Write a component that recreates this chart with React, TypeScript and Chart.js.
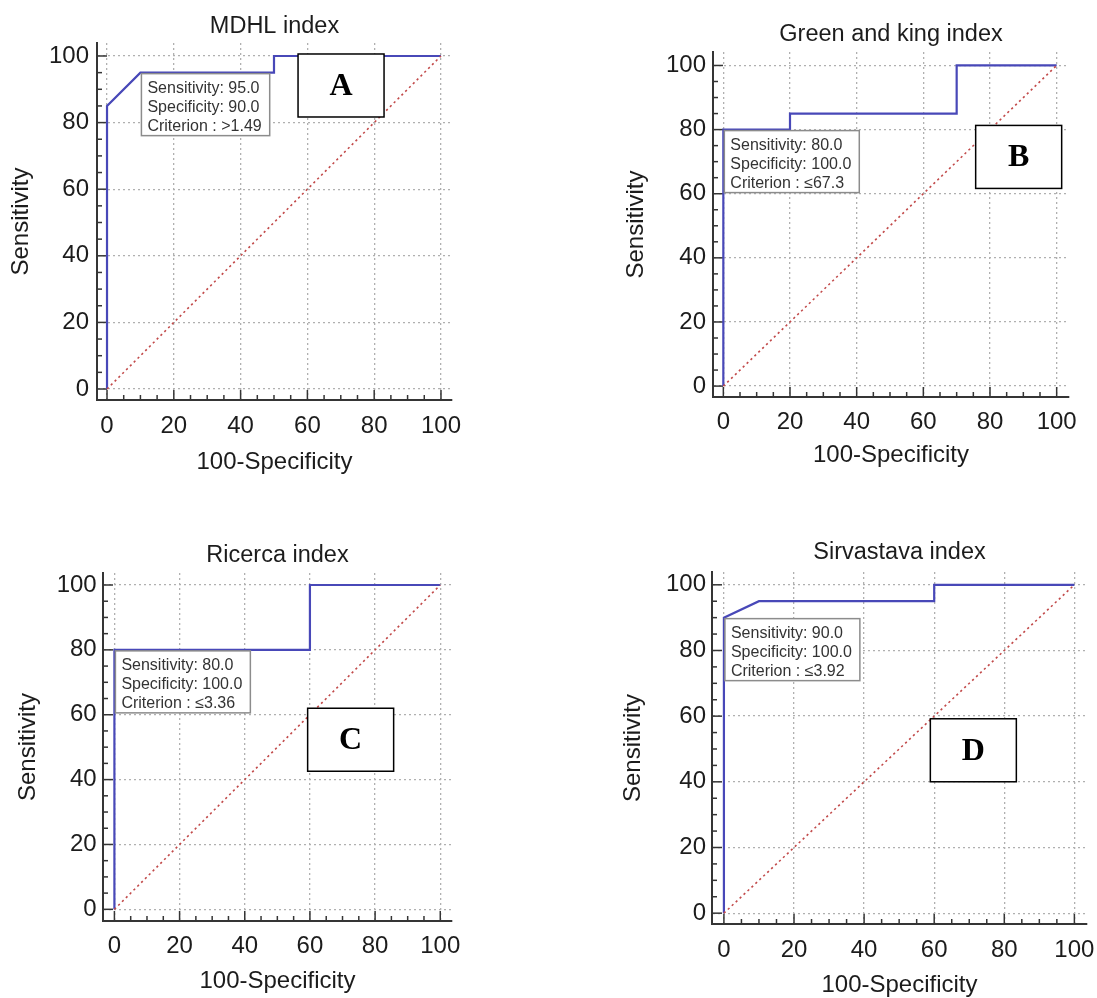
import React, { useEffect, useRef } from 'react';
import { Chart, registerables } from 'chart.js';

Chart.register(...registerables);

// ---------- data ----------
const tickValues = [0, 20, 40, 60, 80, 100];
const minorTickStep = 5;

const titles = ['MDHL index', 'Green and king index', 'Ricerca index', 'Sirvastava index'];
const panelLetters = ['A', 'B', 'C', 'D'];

const mdhlFpr = [0, 0, 10, 50, 50, 100];
const mdhlTpr = [0, 85, 95, 95, 100, 100];
const greenKingFpr = [0, 0, 20, 20, 70, 70, 100];
const greenKingTpr = [0, 80, 80, 85, 85, 100, 100];
const ricercaFpr = [0, 0, 60, 60, 100];
const ricercaTpr = [0, 80, 80, 100, 100];
const sirvastavaFpr = [0, 0, 10, 60, 60, 100];
const sirvastavaTpr = [0, 90, 95, 95, 100, 100];

const diagonalX = [0, 100];
const diagonalY = [0, 100];

const sensitivities = [95.0, 80.0, 80.0, 90.0];
const specificities = [90.0, 100.0, 100.0, 100.0];
const criteria = ['>1.49', '\u226467.3', '\u22643.36', '\u22643.92'];

const curvesX = [mdhlFpr, greenKingFpr, ricercaFpr, sirvastavaFpr];
const curvesY = [mdhlTpr, greenKingTpr, ricercaTpr, sirvastavaTpr];

// ---------- layout (canvas-local pixel geometry) ----------
const panels = [
  { left: 0, top: 0, w: 548, h: 500, area: { l: 97, r: 452, t: 43, b: 400 },
    xr: [-3.0, 103.3], yr: [-3.3, 103.9],
    titleY: 27, yLabelRight: 89, yTitleX: 21.7, xLabelY: 426, xTitleY: 462, letterAt: [57.2, 100.6] },
  { left: 548, top: 0, w: 549, h: 500, area: { l: 165, r: 521, t: 52, b: 397 },
    xr: [-3.1, 103.7], yr: [-3.4, 104.2],
    titleY: 35, yLabelRight: 158, yTitleX: 88.7, xLabelY: 422.5, xTitleY: 455, letterAt: [75.7, 81.3] },
  { left: 0, top: 500, w: 548, h: 500, area: { l: 103, r: 452, t: 73, b: 421 },
    xr: [-3.5, 103.6], yr: [-3.6, 103.7],
    titleY: 56, yLabelRight: 96.7, yTitleX: 28, xLabelY: 446, xTitleY: 481.7, letterAt: [59.3, 62] },
  { left: 548, top: 500, w: 549, h: 500, area: { l: 164, r: 539, t: 72, b: 424 },
    xr: [-3.4, 103.6], yr: [-3.3, 103.9],
    titleY: 53, yLabelRight: 158, yTitleX: 85, xLabelY: 450, xTitleY: 485, letterAt: [58.9, 59.2] },
];

const SANS = '"Liberation Sans", Arial, Helvetica, sans-serif';
const SERIF = '"Liberation Serif", "Times New Roman", serif';
const AXIS_SIZE = 24;
const TITLE_SIZE = 23.5;
const LH = 1.2;
const TEXT_COLOR = '#1c1c1c';
const AXIS_COLOR = '#353535';
const ROC_COLOR = '#4848b8';
const DIAG_COLOR = '#c24a4a';
const GRID_COLOR = '#b0b0b0';

function makeTicksPlugin() {
  return {
    id: 'innerTicks',
    beforeDatasetsDraw(chart: any) {
      const { ctx, chartArea, scales } = chart;
      const x = scales.x;
      const y = scales.y;
      ctx.save();
      ctx.strokeStyle = AXIS_COLOR;
      ctx.lineWidth = 1.5;
      for (let v = 0; v <= 100; v += minorTickStep) {
        const len = v % 20 === 0 ? 10 : 5;
        const px = x.getPixelForValue(v);
        ctx.beginPath();
        ctx.moveTo(px, chartArea.bottom);
        ctx.lineTo(px, chartArea.bottom - len);
        ctx.stroke();
        const py = y.getPixelForValue(v);
        ctx.beginPath();
        ctx.moveTo(chartArea.left, py);
        ctx.lineTo(chartArea.left + len, py);
        ctx.stroke();
      }
      ctx.restore();
    },
  };
}

function makeAnnotationPlugin(i: number) {
  const p = panels[i];
  const lines = [
    'Sensitivity: ' + sensitivities[i].toFixed(1),
    'Specificity: ' + specificities[i].toFixed(1),
    'Criterion : ' + criteria[i],
  ];
  return {
    id: 'rocAnnotations',
    afterDatasetsDraw(chart: any) {
      const { ctx, scales } = chart;
      const x = scales.x;
      const y = scales.y;
      ctx.save();
      // criterion info box anchored at the optimal point
      ctx.font = `16px ${SANS}`;
      const textW = Math.max(...lines.map((l) => ctx.measureText(l).width));
      const bx = x.getPixelForValue(100 - specificities[i]) + 1;
      const by = y.getPixelForValue(sensitivities[i]) + 1;
      const bw = textW + 14;
      const bh = 62;
      ctx.fillStyle = '#ffffff';
      ctx.fillRect(bx, by, bw, bh);
      ctx.strokeStyle = '#8c8c8c';
      ctx.lineWidth = 1.5;
      ctx.strokeRect(bx, by, bw, bh);
      ctx.fillStyle = '#333333';
      ctx.textAlign = 'left';
      ctx.textBaseline = 'middle';
      lines.forEach((l, k) => ctx.fillText(l, bx + 6, by + 15 + k * 19));

      // panel letter box
      const lx = x.getPixelForValue(p.letterAt[0]);
      const ly = y.getPixelForValue(p.letterAt[1]);
      const lw = 86;
      const lhh = 63;
      ctx.fillStyle = '#ffffff';
      ctx.fillRect(lx, ly, lw, lhh);
      ctx.strokeStyle = '#000000';
      ctx.lineWidth = 1.5;
      ctx.strokeRect(lx, ly, lw, lhh);
      ctx.fillStyle = '#000000';
      ctx.font = `bold 32px ${SERIF}`;
      ctx.textAlign = 'center';
      ctx.textBaseline = 'middle';
      ctx.fillText(panelLetters[i], lx + lw / 2, ly + lhh / 2 + 1);
      ctx.restore();
    },
  };
}

function Panel({ index }: { index: number }) {
  const ref = useRef<HTMLCanvasElement | null>(null);
  const p = panels[index];

  useEffect(() => {
    if (!ref.current) return;
    const axisFont = { family: SANS, size: AXIS_SIZE, lineHeight: LH };
    const half = (AXIS_SIZE * LH) / 2;
    const titleHalf = (TITLE_SIZE * LH) / 2;
    const rocPoints = curvesX[index].map((v, k) => ({ x: v, y: curvesY[index][k] }));
    const diagPoints = diagonalX.map((v, k) => ({ x: v, y: diagonalY[k] }));

    const chart = new Chart(ref.current, {
      type: 'scatter',
      data: {
        datasets: [
          {
            data: diagPoints,
            showLine: true,
            borderColor: DIAG_COLOR,
            borderWidth: 1.6,
            borderDash: [2.2, 3.2],
            pointRadius: 0,
            fill: false,
          },
          {
            data: rocPoints,
            showLine: true,
            borderColor: ROC_COLOR,
            borderWidth: 2.2,
            pointRadius: 0,
            tension: 0,
            fill: false,
          },
        ],
      },
      options: {
        responsive: false,
        animation: false,
        events: [],
        layout: { padding: { left: 0, top: 0, right: p.w - p.area.r, bottom: 0 } },
        plugins: {
          legend: { display: false },
          tooltip: { enabled: false },
          title: {
            display: true,
            text: titles[index],
            fullSize: false,
            color: TEXT_COLOR,
            font: { family: SANS, size: TITLE_SIZE, weight: 'normal', lineHeight: LH },
            padding: { top: p.titleY - titleHalf, bottom: Math.max(0, p.area.t - p.titleY - titleHalf) },
          },
        },
        scales: {
          x: {
            type: 'linear',
            min: p.xr[0],
            max: p.xr[1],
            afterBuildTicks: (s: any) => {
              s.ticks = tickValues.map((v) => ({ value: v }));
            },
            afterFit: (s: any) => {
              s.height = p.h - p.area.b;
              s.paddingLeft = 0;
              s.paddingRight = 0;
            },
            ticks: {
              autoSkip: false,
              maxRotation: 0,
              color: TEXT_COLOR,
              font: axisFont,
              padding: p.xLabelY - p.area.b - half,
              callback: (v: any) => String(v),
            },
            grid: { color: GRID_COLOR, lineWidth: 1.3, drawTicks: false },
            border: { display: true, color: AXIS_COLOR, width: 2, dash: [2, 3] },
            title: {
              display: true,
              text: '100-Specificity',
              color: TEXT_COLOR,
              font: axisFont,
              padding: { top: 0, bottom: Math.max(0, p.h - p.xTitleY - half) },
            },
          },
          y: {
            type: 'linear',
            min: p.yr[0],
            max: p.yr[1],
            afterBuildTicks: (s: any) => {
              s.ticks = tickValues.map((v) => ({ value: v }));
            },
            afterFit: (s: any) => {
              s.width = p.area.l;
              s.paddingTop = 0;
              s.paddingBottom = 0;
            },
            ticks: {
              autoSkip: false,
              color: TEXT_COLOR,
              font: axisFont,
              padding: p.area.l - p.yLabelRight,
              callback: (v: any) => String(v),
            },
            grid: { color: GRID_COLOR, lineWidth: 1.3, drawTicks: false },
            border: { display: true, color: AXIS_COLOR, width: 2, dash: [2, 3] },
            title: {
              display: true,
              text: 'Sensitivity',
              color: TEXT_COLOR,
              font: axisFont,
              padding: { top: Math.max(0, p.yTitleX - half), bottom: 0 },
            },
          },
        },
      } as any,
      plugins: [makeTicksPlugin(), makeAnnotationPlugin(index)],
    });
    return () => chart.destroy();
  }, [index]);

  return (
    <canvas
      ref={ref}
      width={p.w}
      height={p.h}
      style={{ position: 'absolute', left: p.left, top: p.top, width: p.w, height: p.h, display: 'block' }}
    />
  );
}

export default function App() {
  return (
    <div
      style={{
        position: 'absolute',
        left: 0,
        top: 0,
        width: 1097,
        height: 998,
        overflow: 'hidden',
        background: '#ffffff',
      }}
    >
      {panels.map((_, i) => (
        <Panel key={i} index={i} />
      ))}
    </div>
  );
}
